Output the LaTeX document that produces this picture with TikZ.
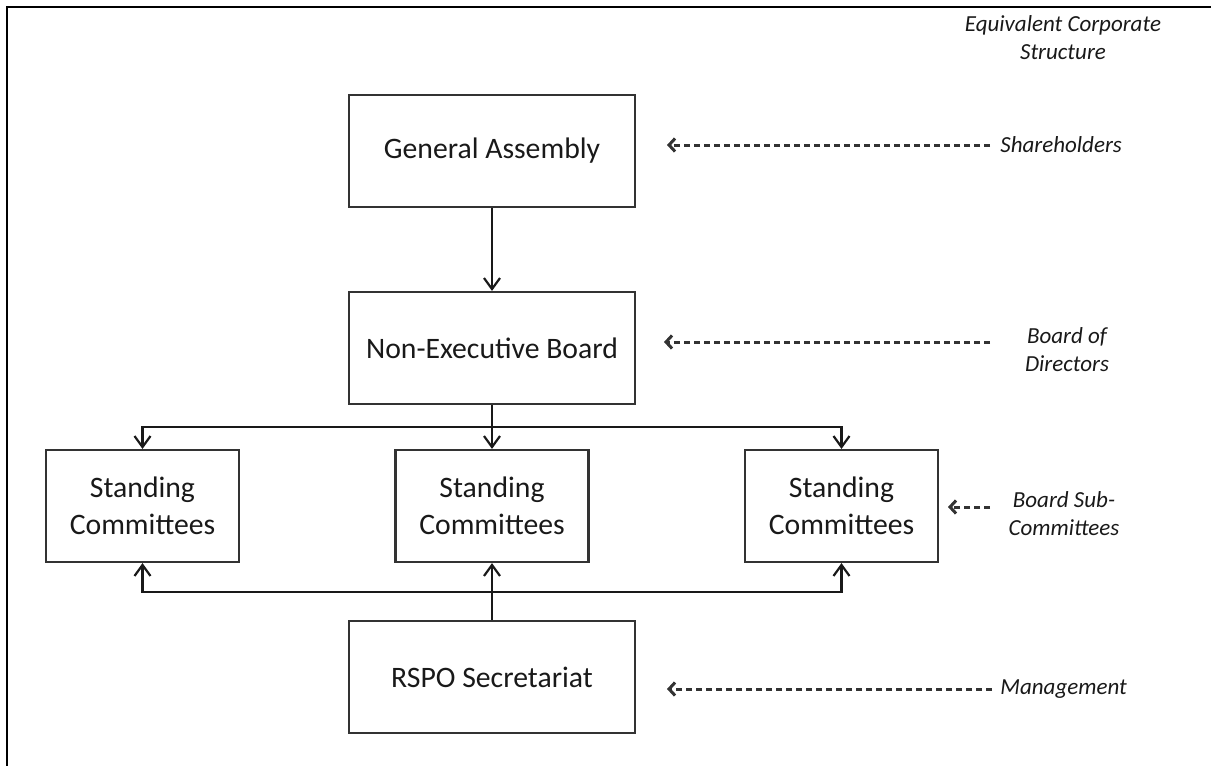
\documentclass[tikz,border=0pt]{standalone}
\usepackage{fontspec}
\setmainfont{Carlito}
\usetikzlibrary{arrows.meta}
\begin{document}
\begin{tikzpicture}[x=0.5pt,y=-0.5pt,
  box/.style={draw=black!80, line width=1.1pt, minimum width=143pt, minimum height=56pt,
    inner sep=0pt, align=center, text=black!90, font=\fontsize{14.85}{18.6}\selectfont},
  smallbox/.style={box, minimum width=96.5pt},
  conn/.style={draw=black!90, line width=1.1pt, -{Straight Barb[length=5.5pt,width=8pt]}},
  dasharr/.style={draw=black!80, line width=1.5pt, dash pattern=on 3pt off 2pt,
    -{Straight Barb[length=3pt,width=6.5pt]}},
  lbl/.style={inner sep=0pt, align=center, text=black!90, font=\fontsize{11.5}{14}\selectfont\itshape},
  frame/.style={draw=black, line width=1.4pt}]
\useasboundingbox (0,0) rectangle (1211,766);
\draw[frame] (7,766) -- (7,7) -- (1211,7);

% boxes
\node[box] (ga) at (492,151) {General Assembly};
\node[box] (neb) at (492,348) {Non-Executive Board};
\node[smallbox] (sc1) at (142.5,506) {Standing\\Committees};
\node[smallbox] (sc2) at (492,506) {Standing\\Committees};
\node[smallbox] (sc3) at (841.5,506) {Standing\\Committees};
\node[box] (rspo) at (492,677) {RSPO Secretariat};

% connectors
\coordinate (bus1) at (492,427);
\coordinate (bus2) at (492,592);
\draw[conn] (ga.south) -- (neb.north);
\draw[conn] (neb.south) -- (sc2.north);
\draw[conn] (bus1) -| (sc1.north);
\draw[conn] (bus1) -| (sc3.north);
\draw[conn] (rspo.north) -- (sc2.south);
\draw[conn] (bus2) -| (sc1.south);
\draw[conn] (bus2) -| (sc3.south);

% labels on the right
\node[lbl] (title) at (1063,38) {Equivalent Corporate\\Structure};
\node[lbl, anchor=west] (shl) at (1000,145) {Shareholders};
\node[lbl] (bod) at (1067,350) {Board of\\Directors};
\node[lbl] (bsc) at (1064,514) {Board Sub-\\Committees};
\node[lbl, anchor=west] (mgt) at (1000,689) {Management};

\coordinate (s1) at (990,145);  \coordinate (e1) at (667,145);
\coordinate (s2) at (990,342);  \coordinate (e2) at (664,342);
\coordinate (s3) at (990,507);  \coordinate (e3) at (948,507);
\coordinate (s4) at (992,689);  \coordinate (e4) at (667,689);
\draw[dasharr] (s1) -- (e1);
\draw[dasharr] (s2) -- (e2);
\draw[dasharr] (s3) -- (e3);
\draw[dasharr] (s4) -- (e4);
\end{tikzpicture}
\end{document}
